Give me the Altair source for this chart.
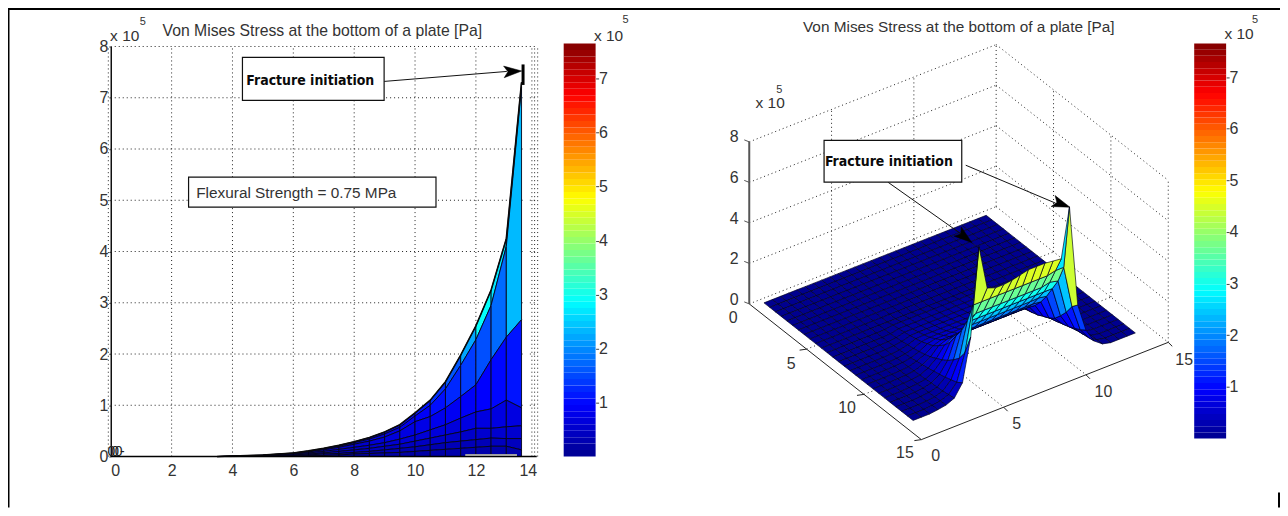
import altair as alt
import pandas as pd

W, H = 1275, 500
FONT = "Liberation Sans"
INK = "#333333"

# ---------- colour map (MATLAB jet) ----------
JET_VALUES = [0, 0.956, 2.87, 4.78, 6.69, 7.65]
JET_COLORS = ["#00008f", "#0000ff", "#00ffff", "#ffff00", "#ff0000", "#800000"]
CMAP = alt.Scale(domain=JET_VALUES, range=JET_COLORS, interpolate="rgb")

# ---------- left panel: stress (1e5 Pa) against position, one list per surface row ----------
LEFT_X = [3.5, 4, 4.5, 5, 5.5, 6, 6.5, 7, 7.5, 8, 8.5, 9, 9.5, 10, 10.5, 11, 11.5, 12, 12.5, 13, 13.5]
ROW_0 = [0, .01, .02, .03, .05, .07, .11, .16, .22, .29, .37, .48, .62, .85, 1.1, 1.46, 1.98, 2.55, 3.25, 4.25, 7.3]
ROW_1 = [0, .008, .015, .025, .045, .065, .1, .15, .2, .27, .34, .44, .57, .79, 1.0, 1.32, 1.78, 2.28, 2.95, 4.1, 7.2]
ROW_2 = [0, .005, .01, .02, .04, .06, .09, .13, .18, .24, .3, .38, .5, .68, .78, .95, 1.17, 1.4, 1.89, 2.33, 2.67]
ROW_3 = [0, .003, .008, .015, .03, .05, .07, .1, .14, .18, .22, .27, .34, .42, .52, .62, .75, .87, .93, 1.1, .95]
ROW_4 = [0, .002, .005, .01, .02, .03, .05, .07, .1, .13, .16, .2, .24, .3, .36, .42, .48, .55, .55, .58, .6]
ROW_5 = [0, .001, .003, .005, .01, .02, .03, .05, .06, .08, .1, .13, .16, .19, .23, .27, .3, .33, .36, .35, .35]
ROW_6 = [0, 0, .001, .002, .005, .01, .015, .02, .03, .05, .06, .07, .08, .1, .12, .14, .16, .18, .2, .2, .13]
ROW_7 = [0] * 21
LEFT_ROWS = [ROW_0, ROW_1, ROW_2, ROW_3, ROW_4, ROW_5, ROW_6, ROW_7]
BAND_0 = [.4, .4, .4, .4, .4, .4, .4, .5, .6, .7, .8, .9, 1, 1.1, 1.3, 1.6, 2.2, 2.9, 2.7, 2.35]
BAND_1 = [.35, .35, .4, .4, .45, .45, .5, .5, .55, .6, .65, .7, .8, .9, 1.05, 1.25, 1.4, 1.55, 1.75, 2.35]
BAND_2 = [.3, .3, .35, .35, .4, .4, .45, .45, .5, .55, .6, .65, .7, .75, .8, .85, .9, .95, 1.0, 1.1]
BAND_3 = [.25, .25, .3, .3, .35, .35, .35, .4, .45, .45, .5, .55, .6, .6, .65, .65, .7, .7, .7, .7]
BAND_4 = [.2, .2, .25, .25, .25, .3, .3, .3, .35, .35, .4, .4, .45, .45, .5, .5, .5, .55, .55, .55]
BAND_5 = [.15, .15, .15, .2, .2, .2, .2, .2, .2, .25, .25, .3, .3, .3, .3, .35, .35, .35, .4, .4]
BAND_6 = [.1, .1, .1, .12, .12, .12, .12, .15, .15, .15, .18, .18, .18, .2, .2, .25, .25, .25, .25, .25]
LEFT_BANDS = [BAND_0, BAND_1, BAND_2, BAND_3, BAND_4, BAND_5, BAND_6]

# ---------- right panel: stress by plate row (edge first) over columns 3..23 ----------
Z_ROWS = [
    [.05, .12, .3, .9, 3.0, 7.3, 5.1, 4.95, 4.95, 5.0, 5.1, 5.2, 5.2, 5.2, 5.15, 5.1, 7.5, 2.5, 1.1, .4, .1],
    [.04, .1, .25, .7, 2.0, 4.2, 4.2, 4.2, 4.2, 4.2, 4.2, 4.2, 4.2, 4.2, 4.2, 4.3, 4.3, 2.2, .9, .35, .08],
    [.03, .08, .2, .6, 1.5, 3.2, 3.4, 3.4, 3.4, 3.4, 3.4, 3.4, 3.4, 3.4, 3.4, 3.5, 3.4, 1.7, .75, .3, .07],
    [.03, .07, .17, .5, 1.2, 2.5, 2.8, 2.8, 2.8, 2.8, 2.8, 2.8, 2.8, 2.8, 2.8, 2.8, 2.8, 1.3, .6, .25, .06],
    [.02, .06, .15, .42, .95, 2.0, 2.25, 2.25, 2.25, 2.25, 2.25, 2.25, 2.25, 2.25, 2.25, 2.27, 2.2, .95, .5, .2, .05],
    [.02, .05, .12, .35, .75, 1.46, 1.75, 1.75, 1.75, 1.75, 1.75, 1.75, 1.75, 1.75, 1.75, 1.75, 1.7, .75, .4, .17, .04],
    [.015, .04, .1, .28, .6, 1.1, 1.35, 1.35, 1.35, 1.35, 1.35, 1.35, 1.35, 1.35, 1.35, 1.35, 1.3, .6, .32, .14, .03],
    [.01, .03, .08, .22, .45, .85, 1.0, 1.0, 1.0, 1.0, 1.0, 1.0, 1.0, 1.0, 1.0, 1.0, 1.0, .45, .25, .11, .02],
    [.01, .02, .06, .17, .35, .62, .75, .75, .75, .75, .75, .75, .75, .75, .75, .75, .75, .35, .2, .08, .02],
    [.01, .02, .05, .12, .27, .49, .58, .58, .58, .58, .58, .58, .58, .58, .58, .58, .58, .27, .15, .06, .01],
    [0, .01, .03, .09, .2, .37, .43, .43, .43, .43, .43, .43, .43, .43, .43, .43, .43, .2, .1, .04, 0],
    [0, .01, .02, .06, .15, .29, .32, .32, .32, .32, .32, .32, .32, .32, .32, .32, .32, .15, .07, .03, 0],
    [0, 0, .01, .04, .1, .22, .24, .24, .24, .24, .24, .24, .24, .24, .24, .24, .24, .1, .05, .02, 0],
    [0, 0, .01, .02, .06, .17, .17, .17, .17, .17, .17, .17, .17, .17, .17, .17, .17, .06, .03, .01, 0],
    [0, 0, 0, .01, .03, .12, .12, .12, .12, .12, .12, .12, .12, .12, .12, .12, .12, .03, .01, 0, 0],
    [0, 0, 0, 0, .01, .08, .08, .08, .08, .08, .08, .08, .08, .08, .08, .08, .08, .01, 0, 0, 0],
]
N_COLS, N_ROWS = 28, 27
X_START, Y_START, STEP = 0.65, 0.35, 0.5
FIRST_TABLE_COL = 3
FACET_COLOURS = {(19, 25): 4.4, (8, 25): 4.4, (18, 25): 2.7}

# 3-D view, read from the floor corners and the vertical axis of the picture
ORIGIN = (751.0, 304.0)
X_DIR = (16.5, -6.5)
Y_DIR = (11.5, 9.07)
Z_UNIT = 20.3


def project(x, y, z=0.0):
    return (ORIGIN[0] + x * X_DIR[0] + y * Y_DIR[0],
            ORIGIN[1] + x * X_DIR[1] + y * Y_DIR[1] - z * Z_UNIT)


def z_at(i, j):
    r = N_ROWS - 1 - j
    c = i - FIRST_TABLE_COL
    if 0 <= r < len(Z_ROWS) and 0 <= c < len(Z_ROWS[0]):
        return Z_ROWS[r][c]
    return 0.0


# ---------- scales ----------
PX = alt.Scale(domain=[8, 8 + W], range=[0, W], nice=False, zero=False)
PY = alt.Scale(domain=[8, 8 + H], range=[0, H], nice=False, zero=False)
LX = alt.Scale(domain=[0, 14], range=[103, 530], nice=False, zero=False)
LY = alt.Scale(domain=[0, 8], range=[449, 38], nice=False, zero=False)


def px(f="x"):
    return alt.X(f"{f}:Q", scale=PX, axis=None)


def py(f="y"):
    return alt.Y(f"{f}:Q", scale=PY, axis=None)


def lx(f="x", axis=None):
    return alt.X(f"{f}:Q", scale=LX, axis=axis)


def ly(f="y", axis=None):
    return alt.Y(f"{f}:Q", scale=LY, axis=axis)


def segs(rows):
    return pd.DataFrame(rows, columns=["x", "y", "x2", "y2"])


def page_rules(rows, **mark):
    return alt.Chart(segs(rows)).mark_rule(**mark).encode(
        x=px(), y=py(), x2=alt.X2("x2:Q"), y2=alt.Y2("y2:Q"))


def page_text(rows, **mark):
    d = pd.DataFrame(rows, columns=["x", "y", "t"])
    opts = dict(font=FONT, color=INK, fontSize=16, align="center", baseline="middle")
    opts.update(mark)
    return alt.Chart(d).mark_text(**opts).encode(x=px(), y=py(), text="t:N")


def arrow_heads(rows):
    d = pd.DataFrame(rows, columns=["x", "y", "a"])
    return alt.Chart(d).mark_point(
        shape="M1,0L-1,-.65L-.55,0L-1,.65Z", filled=True, fill="black", stroke="black",
        strokeWidth=0.5, opacity=1, size=320
    ).encode(x=px(), y=py(), angle=alt.Angle("a:Q", scale=None))


def boxes(rows, **mark):
    d = pd.DataFrame(rows, columns=["x", "y", "x2", "y2"])
    return alt.Chart(d).mark_rect(fill="white", stroke="#111111", strokeWidth=1.2, **mark).encode(
        x=px(), y=py(), x2=alt.X2("x2:Q"), y2=alt.Y2("y2:Q"))


def colourbar(x0, x1, y_bottom, axis_offset):
    n = 64
    top = JET_VALUES[-1]
    d = pd.DataFrame([{"a": 0, "b": 1, "lo": top * k / n, "hi": top * (k + 1) / n, "v": top * (k + .5) / n}
                      for k in range(n)])
    xs = alt.Scale(domain=[0, 1], range=[x0 - 8, x1 - 8], nice=False, zero=False)
    ys = alt.Scale(domain=[0, top], range=[y_bottom - 8, 43 - 8], nice=False, zero=False)
    return alt.Chart(d).mark_rect(strokeWidth=0).encode(
        x=alt.X("a:Q", scale=xs, axis=None), x2=alt.X2("b:Q"),
        y=alt.Y("lo:Q", scale=ys, axis=alt.Axis(
            orient="right", offset=axis_offset, values=[1, 2, 3, 4, 5, 6, 7], title=None, format="d",
            domain=False, grid=False, tickColor="#444444", tickSize=3, labelFontSize=16, labelFont=FONT,
            labelColor=INK, labelPadding=0)),
        y2=alt.Y2("hi:Q"),
        color=alt.Color("v:Q", scale=CMAP, legend=None))


# ---------- left panel ----------
DOT = dict(stroke="#222222", strokeWidth=1, strokeDash=[1, 3])
lgrid_x = pd.DataFrame({"x": [2, 4, 6, 8, 10, 12, 13.84, 13.93, 14.03, -0.08], "a": 0, "b": 8})
lgrid_y = pd.DataFrame({"y": [1, 2, 3, 4, 5, 6, 7, 8], "a": 0, "b": 14})
left_grid_v = alt.Chart(lgrid_x).mark_rule(**DOT).encode(x=lx(), y=ly("a"), y2=alt.Y2("b:Q"))
left_grid_h = alt.Chart(lgrid_y).mark_rule(**DOT).encode(y=ly(), x=lx("a"), x2=alt.X2("b:Q"))
left_gap = alt.Chart(pd.DataFrame([{"x": 13.54, "x2": 13.76, "y": 0, "y2": 7.8}])).mark_rect(fill="white").encode(
    x=lx(), x2=alt.X2("x2:Q"), y=ly(), y2=alt.Y2("y2:Q"))

area_rows = []
for b, band in enumerate(LEFT_BANDS):
    up, lo = LEFT_ROWS[b], LEFT_ROWS[b + 1]
    for k, v in enumerate(band):
        for m in (k, k + 1):
            area_rows.append({"x": LEFT_X[m], "hi": up[m], "lo": lo[m], "v": v, "q": f"{b}-{k}"})
left_surface = alt.Chart(pd.DataFrame(area_rows)).mark_area(
    orient="vertical", stroke="#05051a", strokeWidth=0.9, interpolate="linear", opacity=1
).encode(x=lx(), y=ly("lo"), y2=alt.Y2("hi:Q"), detail="q:N",
         color=alt.Color("v:Q", scale=CMAP, legend=None))

env = pd.DataFrame({"x": LEFT_X, "y": ROW_0})
left_env = alt.Chart(env).mark_line(color="#0a0a0a", strokeWidth=1.6, interpolate="linear").encode(x=lx(), y=ly())

left_axes = alt.Chart(pd.DataFrame({"x": [0, 14], "y": [0, 0]})).mark_line(color="black", strokeWidth=1.4).encode(
    x=lx(axis=alt.Axis(orient="bottom", offset=449 - H, values=[0, 2, 4, 6, 8, 10, 12, 14], format="d", title=None,
                       grid=False, domain=False, tickSize=0, labelFontSize=16, labelFont=FONT, labelColor=INK,
                       labelPadding=6)),
    y=ly(axis=alt.Axis(orient="left", offset=-103, values=list(range(9)), format="d", title=None, grid=False,
                       domainColor="#111111", domainWidth=1.5, tickColor="#555555", tickSize=2, labelFontSize=16,
                       labelFont=FONT, labelColor=INK, labelPadding=1)))

grey_bar = alt.Chart(pd.DataFrame([{"x": 11.65, "x2": 13.35, "y": 0.03}])).mark_rule(
    color="#a0a0a0", strokeWidth=2).encode(x=lx(), x2=alt.X2("x2:Q"), y=ly())
peak_bar = alt.Chart(pd.DataFrame([{"x": 13.55, "y": 7.25, "y2": 7.65}])).mark_rule(
    color="black", strokeWidth=3).encode(x=lx(), y=ly(), y2=alt.Y2("y2:Q"))

zero_marks = pd.DataFrame({"x": [0.02, 0.14, 0.26, 0.38], "y": [.08, .08, .08, .08], "t": ["0", "0", "0", "-"]})
left_zeros = alt.Chart(zero_marks).mark_text(font=FONT, fontSize=14, color="#222222").encode(
    x=lx(), y=ly(), text="t:N")

# ---------- right panel ----------
FLOOR_TICKS = [5, 10, 15]
Z_TICKS = [0, 2, 4, 6, 8]
dotted = []
for z in Z_TICKS:
    a, b, c = project(0, 0, z), project(15, 0, z), project(15, 15, z)
    dotted += [(*a, *b), (*b, *c)]
for t in FLOOR_TICKS:
    a, b = project(t, 0, 0), project(t, 0, 8)
    dotted.append((*a, *b))
    a, b = project(15, t, 0), project(15, t, 8)
    dotted.append((*a, *b))
for t in [5, 10]:
    a, b = project(t, 0), project(t, 15)
    dotted.append((*a, *b))
    a, b = project(0, t), project(15, t)
    dotted.append((*a, *b))
right_grid = page_rules(dotted, **DOT)

solid = [(*project(0, 0), *project(0, 15)), (*project(0, 15), *project(15, 15))]
for t in [5, 10, 15]:
    a = project(0, t)
    solid.append((*a, a[0] - 7, a[1] + 1))
    a = project(t, 15)
    solid.append((*a, a[0] + 4, a[1] + 4))
right_lines = page_rules(solid, stroke="#222222", strokeWidth=1)
z_line = page_rules([(*project(0, 0, 0), *project(0, 0, 8))], stroke="#555555", strokeWidth=2)
z_ticks = page_rules([(*project(0, 0, z), project(0, 0, z)[0] - 5, project(0, 0, z)[1] - 2) for z in Z_TICKS],
                     stroke="#555555", strokeWidth=1)

features = []
order = sorted(((i, j) for i in range(N_COLS - 1) for j in range(N_ROWS - 1)), key=lambda p: (p[1], -p[0]))
for i, j in order:
    corners = [(i, j), (i + 1, j), (i + 1, j + 1), (i, j + 1)]
    zs = [z_at(*c) for c in corners]
    ring = [list(project(X_START + STEP * c[0], Y_START + STEP * c[1], z)) for c, z in zip(corners, zs)]
    ring.append(ring[0])
    v = FACET_COLOURS.get((i, j), sum(sorted(zs)[:3]) / 3)
    features.append({"type": "Feature", "geometry": {"type": "Polygon", "coordinates": [ring]},
                     "properties": {"v": v}})
surface = alt.Chart(alt.Data(values=features)).mark_geoshape(
    stroke="#00001e", strokeWidth=0.7, strokeOpacity=0.95
).encode(color=alt.Color("properties.v:Q", scale=CMAP, legend=None)).project(
    type="identity", scale=1, translate=[-8, -8])

# ---------- labels, boxes, arrows ----------
frame = page_rules([(8.5, 9, 8.5, 508), (8, 8.5, 1283, 8.5)], stroke="black", strokeWidth=2)
stub = page_rules([(1282, 493, 1282, 508)], stroke="black", strokeWidth=2)

title_left = page_text([(323, 30, "Von Mises Stress at the bottom of a plate [Pa]")], fontSize=15.8)
title_right = page_text([(961, 26, "Von Mises Stress at the bottom of a plate [Pa]")], fontSize=15.4)
mult = page_text([(125, 35, "x 10"), (610, 35, "x 10"), (1242, 33, "x 10"), (772, 103, "x 10")], fontSize=15.5)
exps = page_text([(143, 21, "5"), (627, 19, "5"), (1258, 19, "5"), (781, 90, "5")], fontSize=11)

ztick_labels = page_text([(736, 137, "8"), (736, 178, "6"), (736, 219, "4"), (736, 259, "2"), (736, 300, "0")])
floor_labels = page_text([(735, 318, "0"), (793, 364, "5"), (849, 408, "10"), (907, 453, "15"),
                          (938, 456, "0"), (1019, 424, "5"), (1106, 392, "10"), (1187, 360, "15")])

box_layer = boxes([(243, 57, 385, 100), (189, 177, 437, 207), (826, 140, 964, 182)])
FRACTURE = "Fracture initiation"
fracture = page_text([(311, 81, FRACTURE), (891, 162, FRACTURE)], font="DejaVu Sans Condensed", fontWeight="bold",
                     fontSize=14, color="#0a0a0a")
flexural = page_text([(297, 193, "Flexural Strength = 0.75 MPa")], fontSize=15.4)

arrows = page_rules([(385, 81, 508, 71), (890, 182, 965, 235), (968, 165, 1058, 203)], stroke="#111111", strokeWidth=1)
heads = arrow_heads([(514, 71, 357), (967, 237, 38), (1064, 204, 20)])

chart = alt.layer(
    frame, stub,
    left_grid_v, left_grid_h, left_gap, left_surface, left_env, left_axes, grey_bar, peak_bar, left_zeros,
    colourbar(565, 597, 457, 589 - W), colourbar(1197, 1229, 439, 1221 - W),
    right_grid, right_lines, z_line, z_ticks, surface,
    title_left, title_right, mult, exps, ztick_labels, floor_labels,
    arrows, heads, box_layer, fracture, flexural,
).resolve_scale(x="independent", y="independent").properties(
    width=W, height=H, padding=0, autosize=alt.AutoSizeParams(type="none"), background="white"
).configure_view(stroke=None)

chart.save("out.html", embed_options={"renderer": "svg", "actions": False})
